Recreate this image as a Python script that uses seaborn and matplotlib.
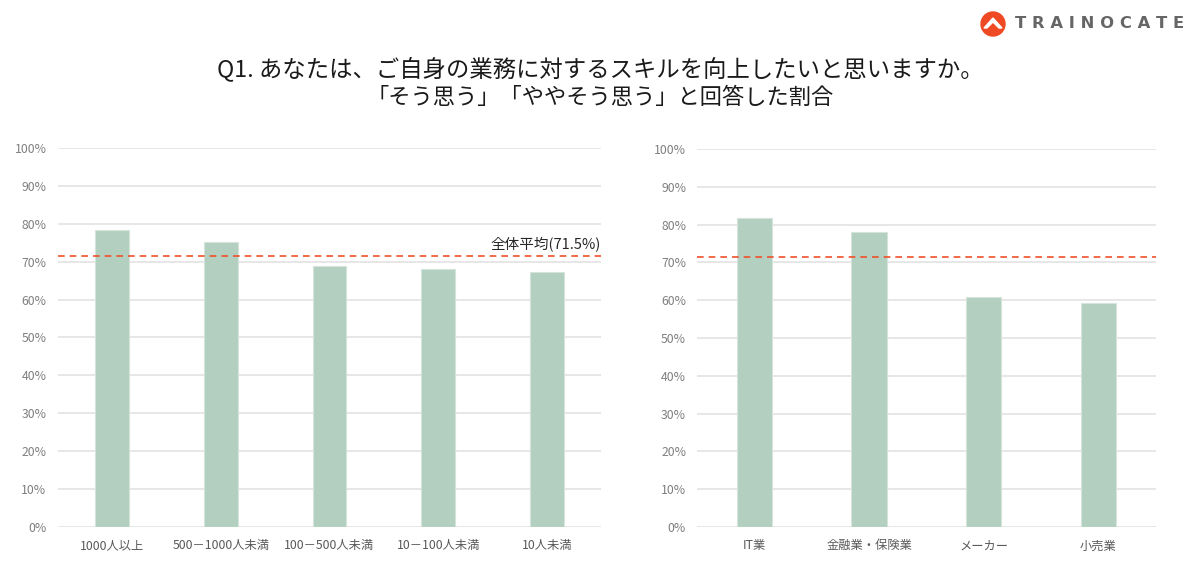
import seaborn as sns
import matplotlib.pyplot as plt
import matplotlib.patches as mpatches
import pandas as pd
from matplotlib.ticker import PercentFormatter

# data
size_labels = ["1000人以上", "500－1000人未満", "100－500人未満", "10－100人未満", "10人未満"]
size_values = [78.4, 75.3, 68.9, 68.2, 67.3]
industry_labels = ["IT業", "金融業・保険業", "メーカー", "小売業"]
industry_values = [81.8, 78.2, 60.9, 59.3]
overall_avg = 71.5

sns.set_theme(style="whitegrid")
plt.rcParams['font.family'] = ['Noto Sans CJK JP', 'DejaVu Sans']

bar_color = "#b3cfc0"
line_color = "#f0502a"
tick_color = "#7f7f7f"

fig = plt.figure(figsize=(12, 5.61), dpi=100)
ax1 = fig.add_axes([0.048, 0.061, 0.453, 0.675])
ax2 = fig.add_axes([0.581, 0.061, 0.382, 0.673])

df1 = pd.DataFrame({"cat": size_labels, "val": size_values})
df2 = pd.DataFrame({"cat": industry_labels, "val": industry_values})

for ax, df in [(ax1, df1), (ax2, df2)]:
    sns.barplot(data=df, x="cat", y="val", color=bar_color, width=0.31,
                edgecolor="#d4e4da", linewidth=0.8, saturation=1, ax=ax, zorder=3)
    ax.axhline(overall_avg, color=line_color, linestyle=(0, (4, 3)), linewidth=1.2, zorder=4)
    ax.set_ylim(0, 100)
    ax.set_yticks(range(0, 101, 10))
    ax.yaxis.set_major_formatter(PercentFormatter(decimals=0))
    ax.set_xlabel("")
    ax.set_ylabel("")
    ax.grid(axis="y", color="#e3e3e3", linewidth=1.2, zorder=0)
    ax.grid(axis="x", visible=False)
    ax.tick_params(axis="y", labelsize=8.8, colors=tick_color, pad=8, length=0)
    ax.tick_params(axis="x", labelsize=8.8, colors="#595959", pad=9, length=0)
    for s in ax.spines.values():
        s.set_visible(False)
    ax.set_facecolor("white")

ax1.text(1.0, overall_avg + 1.2, "全体平均(71.5%)", transform=ax1.get_yaxis_transform(),
         ha="right", va="bottom", fontsize=10.5, color="#262626")

fig.text(0.5, 0.878, "Q1. あなたは、ご自身の業務に対するスキルを向上したいと思いますか。",
         ha="center", va="center", fontsize=16.8, color="#1a1a1a")
fig.text(0.5, 0.826, "「そう思う」「ややそう思う」と回答した割合",
         ha="center", va="center", fontsize=16, color="#1a1a1a")

# logo
circ = mpatches.Circle((993, 561 - 24), 12, transform=None, color="#ef4a23")
fig.patches.append(circ)
roof = mpatches.Polygon([(984, 533), (993, 543), (1002, 533), (999, 533), (993, 539), (987, 533)],
                        closed=True, transform=None, color="white")
fig.patches.append(roof)
fig.text(1015 / 1200, 1 - 24 / 561, "T R A I N O C A T E", ha="left", va="center",
         fontsize=11.8, fontweight="bold", color="#666666", family="DejaVu Sans")

fig.savefig("out.png", dpi=100, facecolor="white")
